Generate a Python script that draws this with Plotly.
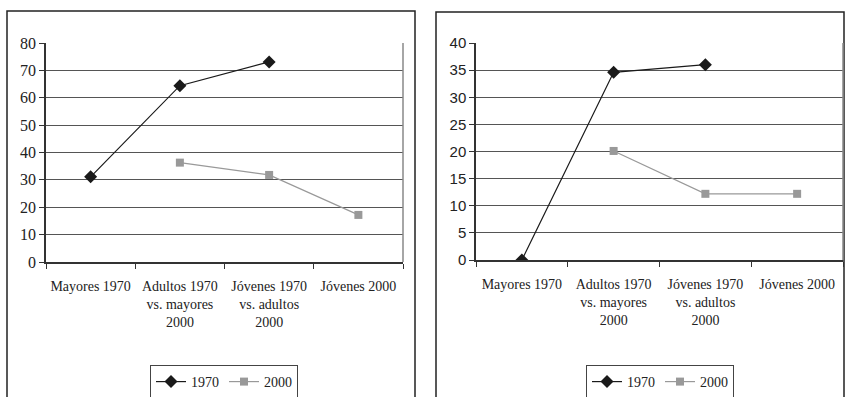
import plotly.graph_objects as go

categories = ["Mayores 1970", "Adultos 1970<br>vs. mayores<br>2000",
              "Jóvenes 1970<br>vs. adultos<br>2000", "Jóvenes 2000"]
left_1970 = [31.1, 64.4, 73.1, None]
left_2000 = [None, 36.3, 31.8, 17.2]
right_1970 = [0, 34.6, 36.0, None]
right_2000 = [None, 20.1, 12.2, 12.2]
left_yticks = [0, 10, 20, 30, 40, 50, 60, 70, 80]
right_yticks = [0, 5, 10, 15, 20, 25, 30, 35, 40]

W, H = 845, 397
def px(x):
    return x / W
def py(y):
    return (H - y) / H

SERIF = "Liberation Serif, Times New Roman, serif"
SANS = "Liberation Sans Narrow, Liberation Sans, Arial, sans-serif"
BLACK = "#1a1a1a"
GRAY = "#999999"

fig = go.Figure()

def add_pair(v1970, v2000, xa, ya, leg):
    fig.add_trace(go.Scatter(x=categories, y=v1970, name="1970", mode="lines+markers",
                             line=dict(color=BLACK, width=1.2),
                             marker=dict(symbol="diamond", size=10, color=BLACK),
                             xaxis=xa, yaxis=ya, legend=leg, connectgaps=False))
    fig.add_trace(go.Scatter(x=categories, y=v2000, name="2000", mode="lines+markers",
                             line=dict(color=GRAY, width=1.2),
                             marker=dict(symbol="square", size=8, color=GRAY),
                             xaxis=xa, yaxis=ya, legend=leg, connectgaps=False))

add_pair(left_1970, left_2000, "x", "y", "legend")
add_pair(right_1970, right_2000, "x2", "y2", "legend2")

xcommon = dict(type="category", showgrid=False, showline=True, linecolor="#333333", linewidth=1.5,
               ticks="outside", tickson="boundaries", ticklen=5, tickcolor="#333333",
               tickfont=dict(family=SERIF, size=14, color="#222222"), zeroline=False,
               tickangle=0, fixedrange=True, automargin=False, ticklabelstandoff=10,
               range=[-0.5, 3.5], autorange=False)
ycommon = dict(showgrid=True, gridcolor="#555555", gridwidth=1, showline=True, linecolor="#333333",
               linewidth=1.5, ticks="outside", ticklen=5, tickcolor="#333333", zeroline=False,
               fixedrange=True, automargin=False)

fig.update_layout(
    width=W, height=H, margin=dict(l=0, r=0, t=0, b=0, autoexpand=False),
    paper_bgcolor="white", plot_bgcolor="white",
    xaxis=dict(domain=[px(46), px(403)], anchor="y", **xcommon),
    yaxis=dict(domain=[py(262), py(43)], anchor="x", range=[0, 80], tickvals=left_yticks,
               tickfont=dict(family=SERIF, size=16, color="#222222"), **ycommon),
    xaxis2=dict(domain=[px(476), px(843)], anchor="y2", **xcommon),
    yaxis2=dict(domain=[py(260), py(43)], anchor="x2", range=[0, 40], tickvals=right_yticks,
                tickfont=dict(family=SANS, size=15, color="#222222"), **ycommon),
    legend=dict(orientation="h", x=px(150), y=py(365), xanchor="left", yanchor="top",
                bordercolor="#444444", borderwidth=1, bgcolor="white",
                font=dict(family=SERIF, size=14, color="#222222"), itemwidth=30,
                tracegroupgap=0),
    legend2=dict(orientation="h", x=px(586), y=py(365), xanchor="left", yanchor="top",
                 bordercolor="#444444", borderwidth=1, bgcolor="white",
                 font=dict(family=SERIF, size=14, color="#222222"), itemwidth=30,
                 tracegroupgap=0),
    showlegend=True,
)

shapes = [
    dict(type="rect", xref="paper", yref="paper", x0=px(7), x1=px(415), y0=-0.1, y1=py(11),
         line=dict(color="#222222", width=1.5), fillcolor="rgba(0,0,0,0)", layer="below"),
    dict(type="rect", xref="paper", yref="paper", x0=px(436), x1=px(844), y0=-0.1, y1=py(12),
         line=dict(color="#222222", width=1.5), fillcolor="rgba(0,0,0,0)", layer="below"),
    dict(type="line", xref="paper", yref="paper", x0=px(403), x1=px(403), y0=py(262), y1=py(43),
         line=dict(color="#888888", width=1.5)),
    dict(type="line", xref="paper", yref="paper", x0=px(843), x1=px(843), y0=py(260), y1=py(43),
         line=dict(color="#888888", width=1.5)),
]
fig.update_layout(shapes=shapes)

fig.write_html("out.html")
